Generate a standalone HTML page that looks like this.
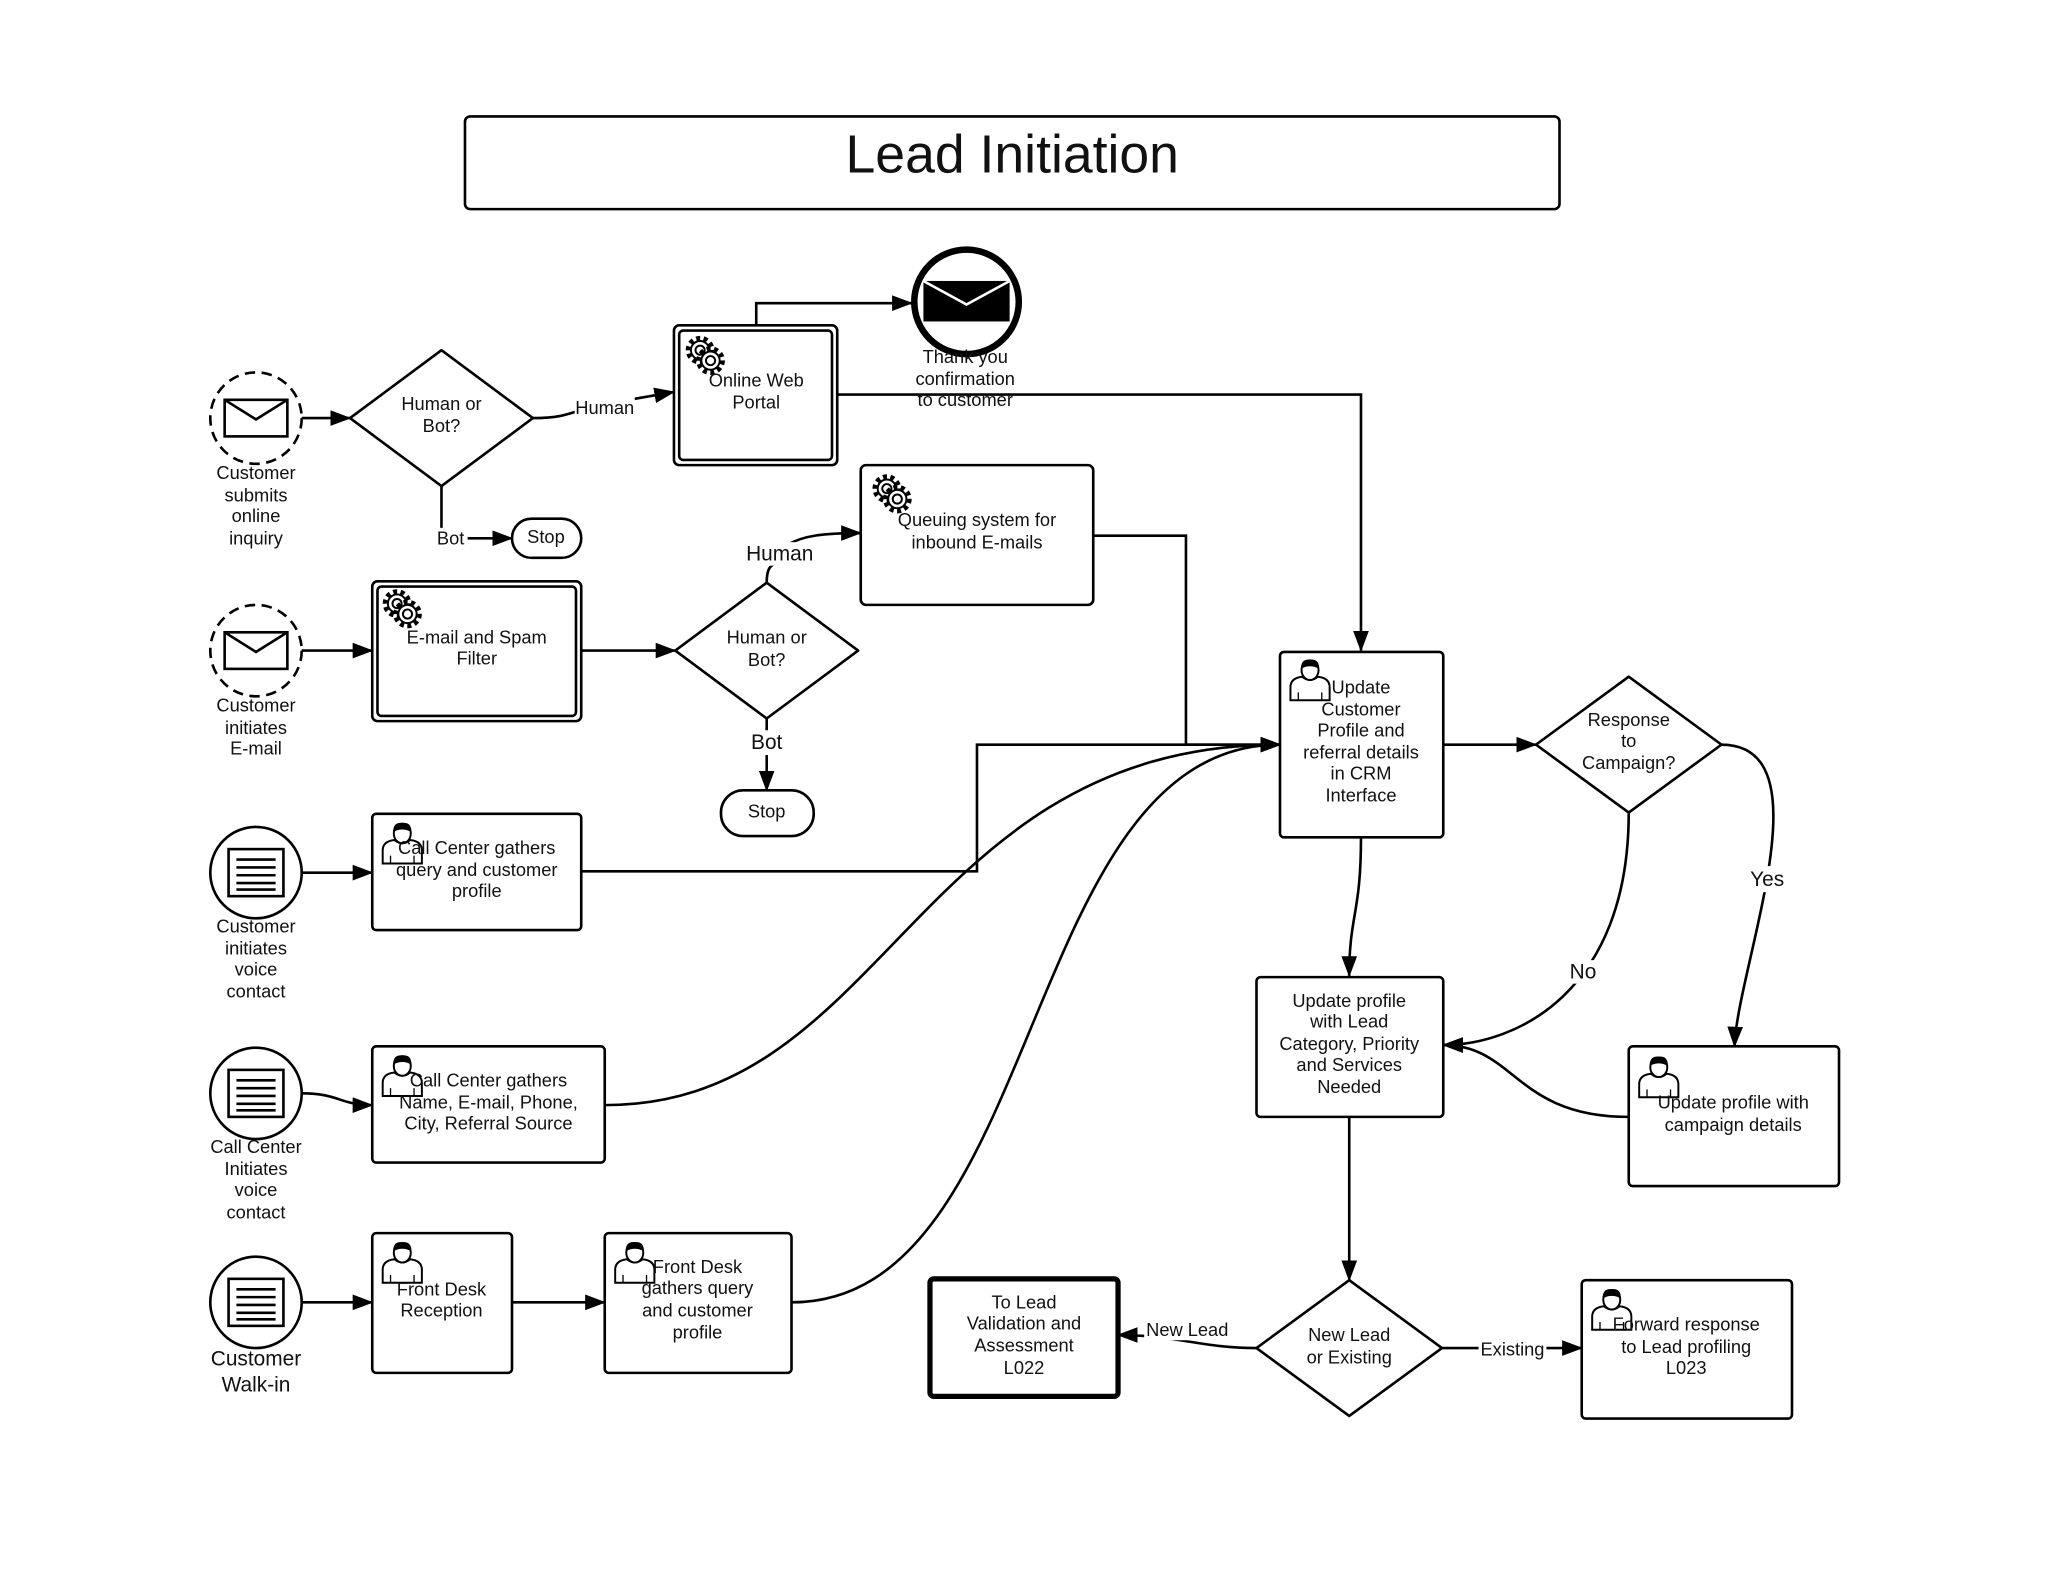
<!DOCTYPE html>
<html><head><meta charset="utf-8"><style>
html,body{margin:0;padding:0;background:#fff;}
svg{display:block;}
text{font-family:"Liberation Sans",sans-serif;font-size:14px;fill:#111;text-anchor:middle;dominant-baseline:middle;}
</style></head><body>
<svg width="2048" height="1582" viewBox="0 0 1568 1211" xmlns="http://www.w3.org/2000/svg">
<defs>
<marker id="b" markerWidth="16" markerHeight="12" refX="15" refY="6" orient="auto" markerUnits="userSpaceOnUse"><path d="M0,0 L16,6 L0,12 Z" fill="#000"/></marker>
<g id="gear"><circle r="9" fill="none" stroke="#000" stroke-width="4" stroke-dasharray="3 2.6"/><circle r="7" fill="#fff" stroke="#000" stroke-width="1.5"/><circle r="3.5" fill="none" stroke="#000" stroke-width="1.5"/></g>
<g id="gears"><use href="#gear" x="-4" y="-4"/><use href="#gear" x="4" y="4"/></g>
<g id="person"><path d="M-15,16 L-15,6 Q-15,-1 -6,-2 Q0,3 6,-2 Q15,-1 15,6 L15,16 Z" fill="#fff" stroke="#000" stroke-width="1.5"/><line x1="-9" y1="10" x2="-9" y2="16" stroke="#000"/><line x1="9" y1="10" x2="9" y2="16" stroke="#000"/><ellipse cx="0" cy="-7" rx="6.5" ry="7.5" fill="#fff" stroke="#000" stroke-width="1.5"/><path d="M-7,-8 Q-7,-16 0,-15 Q7,-16 7,-8 Q0,-12 -7,-8Z" fill="#000"/></g>
<g id="env"><rect x="-24" y="-14" width="48" height="28" fill="#fff" stroke="#000" stroke-width="2"/><path d="M-24,-14 L0,1 L24,-14" fill="none" stroke="#000" stroke-width="2"/></g>
<g id="list"><rect x="-21" y="-18" width="42" height="36" fill="#fff" stroke="#000" stroke-width="2"/><path d="M-15,-10H15M-15,-4H15M-15,2H15M-15,8H15M-15,13H15" stroke="#000" stroke-width="2"/></g>
</defs>
<g fill="none" stroke="#000" stroke-width="2">
<rect x="356" y="89" width="838" height="71" rx="4"/>
<circle cx="196" cy="320" r="35" stroke-dasharray="8 5"/>
<circle cx="196" cy="498" r="35" stroke-dasharray="8 5"/>
<circle cx="196" cy="668" r="35"/>
<circle cx="196" cy="837" r="35"/>
<circle cx="196" cy="997" r="35"/>
<circle cx="740" cy="231" r="40" stroke-width="5"/>
<path d="M338,268 L408,320 L338,372 L268,320 Z" stroke-linejoin="round"/>
<path d="M587,446 L657,498 L587,550 L517,498 Z" stroke-linejoin="round"/>
<path d="M1247,518 L1318,570 L1247,622 L1176,570 Z" stroke-linejoin="round"/>
<path d="M1033,980 L1104,1032 L1033,1084 L962,1032 Z" stroke-linejoin="round"/>
<rect x="392" y="397" width="53" height="30" rx="15"/>
<rect x="552" y="605" width="71" height="35" rx="17"/>
<rect x="516" y="249" width="125" height="107" rx="4"/>
<rect x="520" y="253" width="117" height="99" rx="3"/>
<rect x="285" y="445" width="160" height="107" rx="4"/>
<rect x="289" y="449" width="152" height="99" rx="3"/>
<rect x="659" y="356" width="178" height="107" rx="4"/>
<rect x="285" y="623" width="160" height="89" rx="3"/>
<rect x="285" y="801" width="178" height="89" rx="3"/>
<rect x="285" y="944" width="107" height="107" rx="3"/>
<rect x="463" y="944" width="143" height="107" rx="3"/>
<rect x="980" y="499" width="125" height="142" rx="3"/>
<rect x="962" y="748" width="143" height="107" rx="3"/>
<rect x="1247" y="801" width="161" height="107" rx="3"/>
<rect x="712" y="979" width="144" height="90" rx="3" stroke-width="4"/>
<rect x="1211" y="980" width="161" height="106" rx="3"/>
</g>
<g fill="none" stroke="#000" stroke-width="2">
<path d="M231,320 H268" marker-end="url(#b)"/>
<path d="M408,320 C440,320 440,312 470,308 L516,300" marker-end="url(#b)"/>
<path d="M338,372 V406"/>
<path d="M357,412 H392" marker-end="url(#b)"/>
<path d="M579,249 V232 H698" marker-end="url(#b)"/>
<path d="M641,302 H1042 V498" marker-end="url(#b)"/>
<path d="M837,410 H908 V570 H980" marker-end="url(#b)"/>
<path d="M231,498 H285" marker-end="url(#b)"/>
<path d="M445,498 H517" marker-end="url(#b)"/>
<path d="M587,446 C587,432 592,432 597,430"/>
<path d="M603,417 C615,410 630,408 659,408" marker-end="url(#b)"/>
<path d="M587,550 V560"/>
<path d="M587,578 V605" marker-end="url(#b)"/>
<path d="M231,668 H285" marker-end="url(#b)"/>
<path d="M445,667 H748 V570 H980" marker-end="url(#b)"/>
<path d="M231,837 C260,837 260,846 285,846" marker-end="url(#b)"/>
<path d="M463,846 C680,846 700,570 980,570" marker-end="url(#b)"/>
<path d="M231,997 H285" marker-end="url(#b)"/>
<path d="M392,997 H463" marker-end="url(#b)"/>
<path d="M606,997 C800,997 780,570 980,570" marker-end="url(#b)"/>
<path d="M1105,570 H1176" marker-end="url(#b)"/>
<path d="M1318,570 C1400,570 1330,740 1328,801" marker-end="url(#b)"/>
<path d="M1247,622 C1247,760 1160,800 1105,800" marker-end="url(#b)"/>
<path d="M1247,855 C1160,855 1160,800 1105,800" marker-end="url(#b)"/>
<path d="M1042,641 C1042,700 1033,700 1033,747" marker-end="url(#b)"/>
<path d="M1033,855 V980" marker-end="url(#b)"/>
<path d="M962,1032 C920,1032 900,1022 856,1022" marker-end="url(#b)"/>
<path d="M1104,1032 H1211" marker-end="url(#b)"/>
</g>
<use href="#env" x="196" y="320"/>
<use href="#env" x="196" y="498"/>
<use href="#list" x="196" y="668"/>
<use href="#list" x="196" y="837"/>
<use href="#list" x="196" y="997"/>
<rect x="707" y="215" width="66" height="31" fill="#000"/>
<path d="M707,215 L740,233 L773,215" fill="none" stroke="#fff" stroke-width="2"/>
<use href="#gears" x="540" y="272"/>
<use href="#gears" x="308" y="466"/>
<use href="#gears" x="683" y="378"/>
<use href="#person" x="308" y="645"/>
<use href="#person" x="308" y="823"/>
<use href="#person" x="308" y="966"/>
<use href="#person" x="486" y="966"/>
<use href="#person" x="1003" y="520"/>
<use href="#person" x="1270" y="824"/>
<use href="#person" x="1234" y="1002"/>
<rect x="440" y="304" width="46" height="16" fill="#fff"/>
<rect x="334" y="404" width="24" height="16" fill="#fff"/>
<rect x="570" y="415" width="54" height="18" fill="#fff"/>
<rect x="573" y="559" width="28" height="18" fill="#fff"/>
<rect x="1338" y="663" width="30" height="20" fill="#fff"/>
<rect x="1200" y="735" width="24" height="18" fill="#fff"/>
<rect x="876" y="1010" width="66" height="16" fill="#fff"/>
<rect x="1132" y="1025" width="52" height="16" fill="#fff"/>
<g transform="translate(0,1)">
<text x="775" y="120" style="font-size:41px">Lead Initiation</text>
<text x="463" y="312">Human</text>
<text x="345" y="412">Bot</text>
<text x="418" y="411">Stop</text>
<text x="597" y="424" style="font-size:16px">Human</text>
<text x="587" y="568" style="font-size:16px">Bot</text>
<text x="587" y="621">Stop</text>
<text x="1353" y="673" style="font-size:16px">Yes</text>
<text x="1212" y="744" style="font-size:16px">No</text>
<text x="909" y="1018">New Lead</text>
<text x="1158" y="1033">Existing</text>
<text x="196" y="362">Customer</text><text x="196" y="379">submits</text><text x="196" y="395">online</text><text x="196" y="412">inquiry</text>
<text x="196" y="540">Customer</text><text x="196" y="557">initiates</text><text x="196" y="573">E-mail</text>
<text x="196" y="709">Customer</text><text x="196" y="726">initiates</text><text x="196" y="742">voice</text><text x="196" y="759">contact</text>
<text x="196" y="878">Call Center</text><text x="196" y="895">Initiates</text><text x="196" y="911">voice</text><text x="196" y="928">contact</text>
<text x="196" y="1040" style="font-size:16px">Customer</text><text x="196" y="1060" style="font-size:16px">Walk-in</text>
<text x="338" y="309">Human or</text><text x="338" y="326">Bot?</text>
<text x="587" y="488">Human or</text><text x="587" y="505">Bot?</text>
<text x="1247" y="551">Response</text><text x="1247" y="567">to</text><text x="1247" y="584">Campaign?</text>
<text x="1033" y="1022">New Lead</text><text x="1033" y="1039">or Existing</text>
<text x="579" y="291">Online Web</text><text x="579" y="308">Portal</text>
<text x="739" y="273">Thank you</text><text x="739" y="290">confirmation</text><text x="739" y="306">to customer</text>
<text x="748" y="398">Queuing system for</text><text x="748" y="415">inbound E-mails</text>
<text x="365" y="488">E-mail and Spam</text><text x="365" y="504">Filter</text>
<text x="365" y="649">Call Center gathers</text><text x="365" y="666">query and customer</text><text x="365" y="682">profile</text>
<text x="374" y="827">Call Center gathers</text><text x="374" y="844">Name, E-mail, Phone,</text><text x="374" y="860">City, Referral Source</text>
<text x="338" y="987">Front Desk</text><text x="338" y="1003">Reception</text>
<text x="534" y="970">Front Desk</text><text x="534" y="986">gathers query</text><text x="534" y="1003">and customer</text><text x="534" y="1020">profile</text>
<text x="1042" y="526">Update</text><text x="1042" y="543">Customer</text><text x="1042" y="559">Profile and</text><text x="1042" y="576">referral details</text><text x="1042" y="592">in CRM</text><text x="1042" y="609">Interface</text>
<text x="1033" y="766">Update profile</text><text x="1033" y="782">with Lead</text><text x="1033" y="799">Category, Priority</text><text x="1033" y="815">and Services</text><text x="1033" y="832">Needed</text>
<text x="1327" y="844">Update profile with</text><text x="1327" y="861">campaign details</text>
<text x="784" y="997">To Lead</text><text x="784" y="1013">Validation and</text><text x="784" y="1030">Assessment</text><text x="784" y="1047">L022</text>
<text x="1291" y="1014">Forward response</text><text x="1291" y="1031">to Lead profiling</text><text x="1291" y="1047">L023</text>
</g>
</svg>
</body></html>
